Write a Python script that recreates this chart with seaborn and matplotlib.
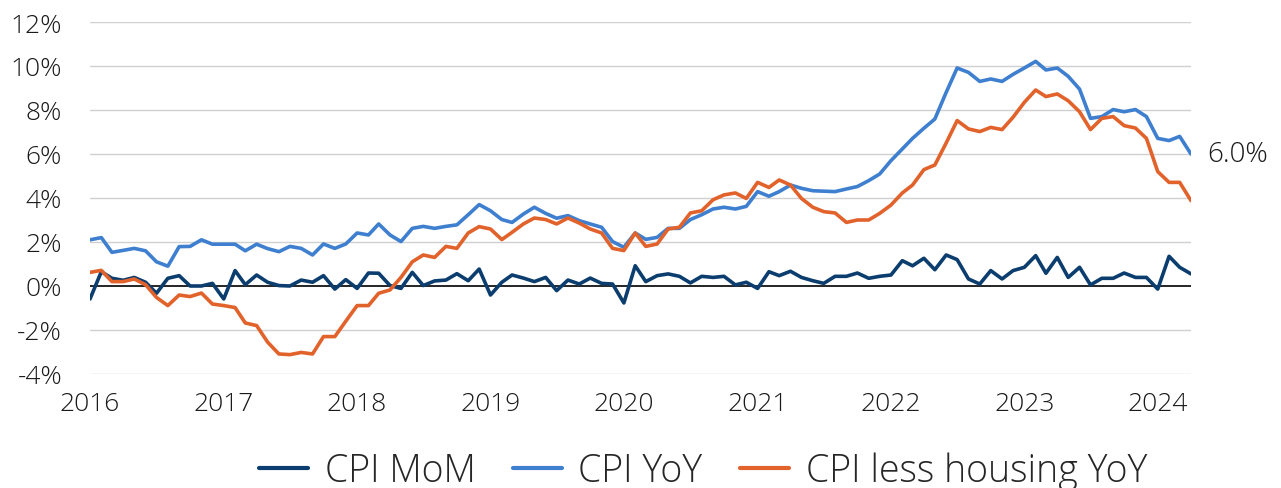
import numpy as np
import pandas as pd
import matplotlib
matplotlib.use("Agg")
import matplotlib.pyplot as plt
import matplotlib.dates as mdates
from matplotlib.ticker import FuncFormatter
import seaborn as sns

# monthly readings, Jan 2016 - Apr 2024 (percent)
months = pd.date_range("2016-01-01", periods=100, freq="MS")

cpi_mom = [
    -0.59, 0.65, 0.35, 0.26, 0.39, 0.17, -0.33, 0.35, 0.47, 0.00, 0.00, 0.12,
    -0.59, 0.70, 0.06, 0.50, 0.17, 0.02, 0.00, 0.27, 0.17, 0.47, -0.14, 0.29,
    -0.11, 0.59, 0.58, 0.02, -0.11, 0.62, 0.02, 0.23, 0.27, 0.56, 0.24, 0.77,
    -0.41, 0.17, 0.50, 0.36, 0.20, 0.39, -0.21, 0.27, 0.09, 0.36, 0.12, 0.09,
    -0.77, 0.92, 0.20, 0.47, 0.55, 0.44, 0.14, 0.44, 0.39, 0.44, 0.05, 0.17,
    -0.11, 0.65, 0.47, 0.67, 0.39, 0.24, 0.12, 0.44, 0.44, 0.59, 0.35, 0.44,
    0.50, 1.15, 0.92, 1.26, 0.74, 1.41, 1.20, 0.32, 0.09, 0.70, 0.32, 0.70,
    0.85, 1.38, 0.58, 1.30, 0.39, 0.85, 0.05, 0.35, 0.35, 0.59, 0.39, 0.39,
    -0.14, 1.35, 0.85, 0.55,
]

cpi_yoy = [
    2.10, 2.20, 1.53, 1.62, 1.71, 1.60, 1.10, 0.90, 1.79, 1.80, 2.10, 1.90,
    1.90, 1.90, 1.60, 1.90, 1.70, 1.56, 1.80, 1.71, 1.41, 1.91, 1.71, 1.91,
    2.41, 2.32, 2.82, 2.32, 2.02, 2.62, 2.71, 2.62, 2.71, 2.78, 3.24, 3.70,
    3.42, 3.02, 2.89, 3.27, 3.58, 3.30, 3.08, 3.20, 2.97, 2.82, 2.67, 2.02,
    1.76, 2.41, 2.12, 2.21, 2.62, 2.62, 3.02, 3.24, 3.50, 3.58, 3.50, 3.62,
    4.29, 4.08, 4.29, 4.59, 4.44, 4.33, 4.31, 4.29, 4.41, 4.52, 4.79, 5.09,
    5.70, 6.23, 6.71, 7.17, 7.59, 8.80, 9.91, 9.71, 9.30, 9.41, 9.30, 9.62,
    9.91, 10.21, 9.82, 9.91, 9.53, 8.95, 7.62, 7.70, 8.02, 7.92, 8.02, 7.70,
    6.71, 6.61, 6.80, 6.00,
]

cpi_less_housing = [
    0.62, 0.71, 0.20, 0.20, 0.32, 0.06, -0.52, -0.89, -0.41, -0.48, -0.32, -0.82,
    -0.89, -0.98, -1.68, -1.80, -2.55, -3.09, -3.12, -3.02, -3.09, -2.30, -2.30, -1.60,
    -0.89, -0.89, -0.33, -0.18, 0.39, 1.10, 1.41, 1.30, 1.80, 1.71, 2.41, 2.70,
    2.59, 2.11, 2.44, 2.82, 3.09, 3.02, 2.82, 3.09, 2.86, 2.59, 2.41, 1.71,
    1.61, 2.41, 1.80, 1.91, 2.59, 2.67, 3.32, 3.42, 3.92, 4.14, 4.23, 3.98,
    4.71, 4.48, 4.82, 4.59, 3.98, 3.58, 3.38, 3.32, 2.89, 3.00, 3.00, 3.30,
    3.68, 4.23, 4.59, 5.29, 5.50, 6.50, 7.52, 7.14, 7.02, 7.21, 7.11, 7.67,
    8.35, 8.91, 8.61, 8.73, 8.42, 7.92, 7.11, 7.62, 7.70, 7.29, 7.18, 6.71,
    5.20, 4.71, 4.71, 3.88,
]

series_names = ["CPI MoM", "CPI YoY", "CPI less housing YoY"]
series_colors = ["#0b3d6e", "#3f7fcf", "#e2622b"]

df = pd.DataFrame({
    "month": months,
    "CPI MoM": cpi_mom,
    "CPI YoY": cpi_yoy,
    "CPI less housing YoY": cpi_less_housing,
})
long_df = df.melt(id_vars="month", var_name="series", value_name="value")

sns.set_theme(style="white")
plt.rcParams["font.family"] = ["Open Sans", "DejaVu Sans"]
plt.rcParams["font.weight"] = "light"

fig = plt.figure(figsize=(12.81, 4.89), dpi=100)
ax = fig.add_axes([90 / 1281, 1 - 375 / 489, 1101 / 1281, 352 / 489])

sns.lineplot(data=long_df, x="month", y="value", hue="series",
             hue_order=series_names, palette=series_colors,
             linewidth=2.6, ax=ax, legend=True)

ax.axhline(0, color="black", linewidth=1.2, zorder=1)
for v in range(-4, 14, 2):
    if v != 0:
        ax.axhline(v, color="#d0d0d0", linewidth=1.0, zorder=0)

ax.set_ylim(-4, 12)
ax.set_yticks(range(-4, 14, 2))
ax.yaxis.set_major_formatter(FuncFormatter(lambda v, p: f"{v:.0f}%"))
ax.set_xlim(months[0], months[-1])
ax.xaxis.set_major_locator(mdates.YearLocator())
ax.xaxis.set_major_formatter(mdates.DateFormatter("%Y"))
ax.tick_params(axis="both", labelsize=19, length=0, colors="#1a1a1a")
ax.tick_params(axis="y", pad=20)
ax.tick_params(axis="x", pad=12)
ax.set_xlabel("")
ax.set_ylabel("")
for s in ax.spines.values():
    s.set_visible(False)

ax.annotate(f"{cpi_yoy[-1]:.1f}%", xy=(months[-1], cpi_yoy[-1]),
            xytext=(12, 0), textcoords="offset points",
            va="center", ha="left", fontsize=20, color="#1a1a1a",
            annotation_clip=False)

handles, labels = ax.get_legend_handles_labels()
for h in handles:
    h.set_linewidth(3)
ax.get_legend().remove()
fig.legend(handles, labels, loc="center", ncol=3, frameon=False,
           bbox_to_anchor=(703 / 1281, 1 - 472 / 489), fontsize=27,
           handlelength=1.3, handletextpad=0.45, columnspacing=1.0)

fig.savefig("out.png", dpi=100)
